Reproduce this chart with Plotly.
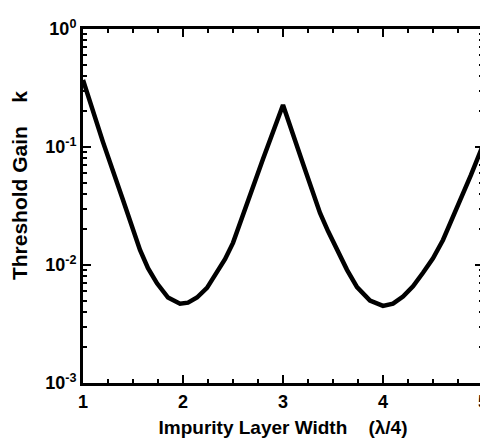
import plotly.graph_objects as go

# impurity layer width (units of lambda/4) and threshold gain k
width = [1.0, 1.2, 1.4, 1.5, 1.57, 1.65, 1.74, 1.85, 1.97, 2.05, 2.14, 2.24, 2.34,
         2.42, 2.5, 2.65, 2.8, 2.9, 3.0, 3.2, 3.3, 3.37, 3.45, 3.54, 3.64, 3.74,
         3.87, 4.0, 4.1, 4.2, 4.3, 4.4, 4.5, 4.6, 4.7, 4.77, 4.88, 5.0]
gain = [0.37, 0.11, 0.0356, 0.0202, 0.0134, 0.0094, 0.0070, 0.0053, 0.0047, 0.0048,
        0.0053, 0.0064, 0.0086, 0.0112, 0.0154, 0.0356, 0.079, 0.134, 0.227, 0.072,
        0.0414, 0.0276, 0.0194, 0.0134, 0.0091, 0.0065, 0.0050, 0.0045, 0.0047,
        0.0054, 0.0066, 0.0086, 0.0114, 0.0163, 0.0255, 0.0356, 0.058, 0.104]

x_ticks = [1, 2, 3, 4, 5]
y_ticks = [1e-3, 1e-2, 1e-1, 1]
y_labels = ['10<sup>-3</sup>', '10<sup>-2</sup>', '10<sup>-1</sup>', '10<sup>0</sup>']
x_minor = [1 + 0.25 * i for i in range(17)]
y_minor = [m * 10 ** e for e in (-3, -2, -1) for m in range(2, 10)]

family = 'Liberation Sans, Arial, sans-serif'
tick_font = dict(family=family, size=18, color='black', weight='bold')
title_font = dict(family=family, size=19, color='black', weight='bold')

fig = go.Figure(go.Scatter(x=width, y=gain, mode='lines',
                           line=dict(color='black', width=4.5), showlegend=False))

axis = dict(showline=True, linecolor='black', linewidth=3, mirror='ticks',
            ticks='inside', tickcolor='black', tickwidth=2, ticklen=8,
            showgrid=False, zeroline=False, tickfont=tick_font, automargin=False,
            ticklabeloverflow='allow')

fig.update_xaxes(range=[1, 5], tickvals=x_ticks, ticktext=[str(v) for v in x_ticks],
                 minor=dict(tickvals=x_minor, ticks='inside', ticklen=4,
                            tickwidth=2, tickcolor='black'),
                 title=dict(text='Impurity Layer Width    (λ/4)', font=title_font, standoff=11),
                 **axis)
fig.update_yaxes(type='log', range=[-3, 0], tickvals=y_ticks, ticktext=y_labels,
                 minor=dict(tickvals=y_minor, ticks='inside', ticklen=4,
                            tickwidth=2, tickcolor='black'),
                 title=dict(text='&nbsp;' * 7 + 'Threshold Gain    k',
                            font=dict(family=family, size=21, color='black', weight='bold'),
                            standoff=14),
                 **axis)
# page body has an 8px margin, so the figure is sized to fit inside it
fig.update_layout(width=480, height=436, margin=dict(l=75, r=5, t=21, b=61),
                  plot_bgcolor='white', paper_bgcolor='white')

fig.write_html("out.html")
